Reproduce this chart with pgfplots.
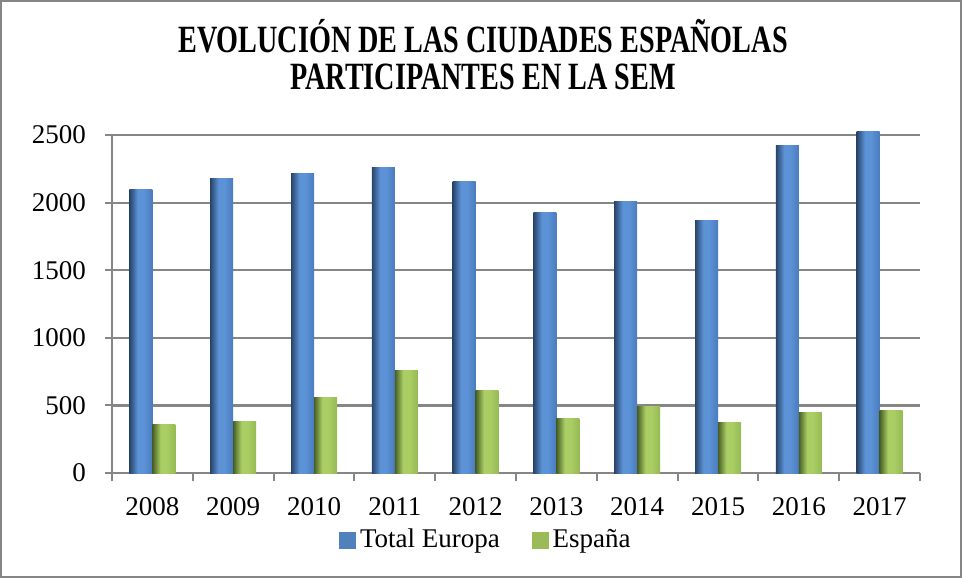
\documentclass[border=0pt]{standalone}
\usepackage{fontspec}
\setmainfont{Liberation Serif}
\usepackage{pgfplots}
\pgfplotsset{compat=1.18}

\definecolor{gridgray}{RGB}{134,134,134}
\definecolor{bdark}{RGB}{40,68,106}
\definecolor{blight}{RGB}{92,146,214}
\definecolor{bright}{RGB}{74,124,190}
\definecolor{gdark}{RGB}{72,94,36}
\definecolor{glight}{RGB}{170,206,100}
\definecolor{gright}{RGB}{150,186,84}
\definecolor{bflat}{RGB}{79,129,189}
\definecolor{gflat}{RGB}{155,187,89}

\pgfdeclarehorizontalshading{bluebar}{100bp}{color(0bp)=(bdark); color(25bp)=(bdark); color(43bp)=(blight); color(56bp)=(blight); color(75bp)=(bright); color(100bp)=(bright)}
\pgfdeclarehorizontalshading{greenbar}{100bp}{color(0bp)=(gdark); color(25bp)=(gdark); color(43bp)=(glight); color(56bp)=(glight); color(75bp)=(gright); color(100bp)=(gright)}

% one bar per plot, so that each bar gets its own shading
\newcommand{\bluebar}[2]{\addplot[draw=none, shading=bluebar, bar shift=-5.75pt, forget plot] coordinates {(#1,#2)};}
\newcommand{\greenbar}[2]{\addplot[draw=none, shading=greenbar, bar shift=5.75pt, forget plot] coordinates {(#1,#2)};}

\begin{document}
\begin{tikzpicture}
\path[use as bounding box] (0,0) rectangle (481pt,289pt);
\draw[gridgray, line width=0.9pt] (0.6pt,0.6pt) rectangle (480.4pt,288.4pt);

\node[inner sep=0pt, font=\fontsize{19.3}{22}\selectfont\bfseries] at (241.5pt,271pt) {\scalebox{0.73}[1]{EVOLUCIÓN DE LAS CIUDADES ESPAÑOLAS}};
\node[inner sep=0pt, font=\fontsize{19.3}{22}\selectfont\bfseries] at (241.5pt,250.3pt) {\scalebox{0.73}[1]{PARTICIPANTES EN LA SEM}};

\begin{axis}[
	at={(56pt,52.5pt)}, anchor=south west,
	scale only axis,
	width=404pt, height=169pt,
	xmin=-0.5, xmax=9.5,
	ymin=0, ymax=2500,
	clip=false,
	ybar, bar width=11.5pt,
	axis x line*=bottom, axis y line*=left,
	axis line style={draw=gridgray, line width=1pt, -},
	xtick={0,...,9},
	xticklabels={2008,2009,2010,2011,2012,2013,2014,2015,2016,2017},
	major x tick style={draw=none},
	minor xtick={-0.5,0.5,...,9.5},
	ytick={0,500,...,2500},
	tick align=outside,
	major tick length=3.5pt, minor tick length=4pt,
	every tick/.style={draw=gridgray, line width=1pt},
	ymajorgrids,
	major grid style={draw=gridgray, line width=1.1pt},
	tick label style={font=\fontsize{13.5}{16}\selectfont},
	/pgf/number format/assume math mode=true,
	/pgf/number format/1000 sep={},
	xticklabel style={yshift=-5pt},
	yticklabel style={xshift=-6pt},
	legend style={at={(axis description cs:0.464,-0.198)}, anchor=center,
		draw=none, fill=none, font=\fontsize{13.5}{16}\selectfont,
		legend columns=2, /tikz/every even column/.append style={column sep=14pt}},
]
% Total Europa
\bluebar{0}{2095}
\bluebar{1}{2175}
\bluebar{2}{2215}
\bluebar{3}{2260}
\bluebar{4}{2155}
\bluebar{5}{1925}
\bluebar{6}{2005}
\bluebar{7}{1865}
\bluebar{8}{2425}
\bluebar{9}{2525}
% España
\greenbar{0}{360}
\greenbar{1}{380}
\greenbar{2}{560}
\greenbar{3}{760}
\greenbar{4}{610}
\greenbar{5}{400}
\greenbar{6}{490}
\greenbar{7}{370}
\greenbar{8}{445}
\greenbar{9}{460}
\addlegendimage{legend image code/.code={\fill[bflat] (0pt,-4pt) rectangle (8pt,4pt);}}
\addlegendentry{Total Europa}
\addlegendimage{legend image code/.code={\fill[gflat] (0pt,-4pt) rectangle (8pt,4pt);}}
\addlegendentry{España}
\end{axis}
\end{tikzpicture}
\end{document}
